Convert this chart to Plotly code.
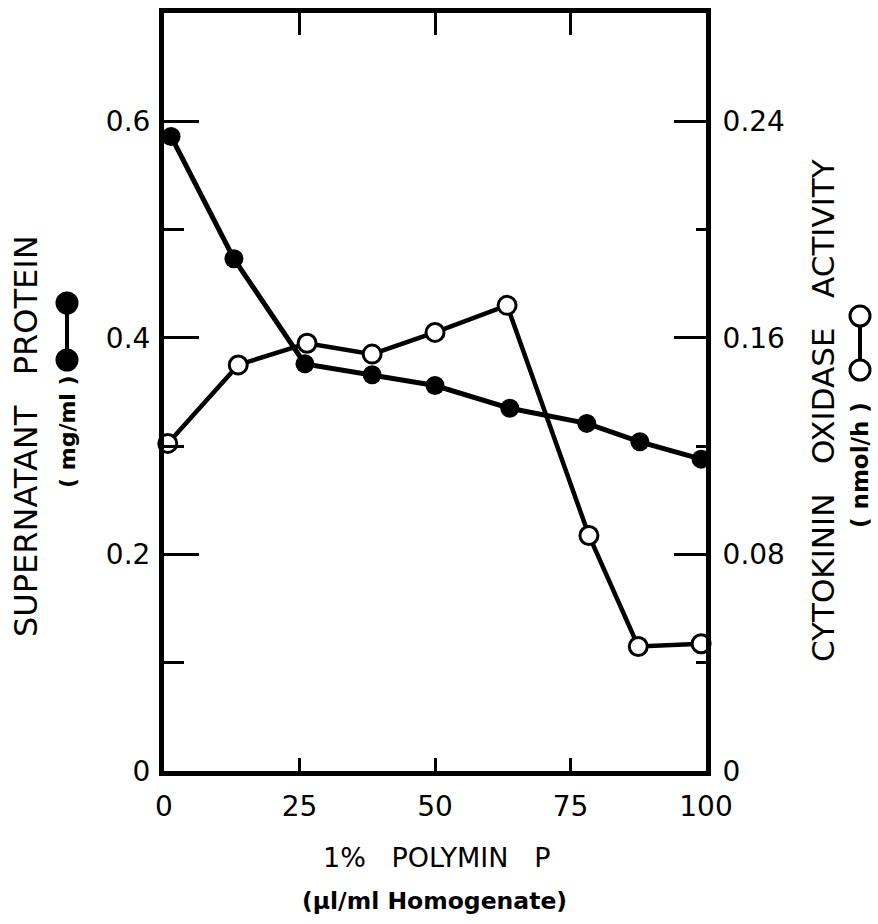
import plotly.graph_objects as go

# Data
polymin_x = [1.3, 12.9, 26.0, 38.4, 50.0, 63.8, 78.0, 87.8, 99.1]
protein = [0.586, 0.473, 0.376, 0.366, 0.356, 0.335, 0.321, 0.304, 0.288]

activity_x = [0.7, 13.7, 26.4, 38.4, 50.0, 63.3, 78.4, 87.5, 99.1]
activity = [0.121, 0.150, 0.158, 0.154, 0.162, 0.172, 0.087, 0.046, 0.047]

x_ticks = [0, 25, 50, 75, 100]
left_ticks = [0, 0.2, 0.4, 0.6]
left_labels = ["0", "0.2", "0.4", "0.6"]
left_minor = [0.1, 0.3, 0.5]
right_ticks = [0, 0.08, 0.16, 0.24]
right_labels = ["0", "0.08", "0.16", "0.24"]
right_minor = [0.04, 0.12, 0.20]

FONT = "DejaVu Sans"
W, H = 878, 924
L, R, T, B = 164, 172, 13, 153

fig = go.Figure()

fig.add_trace(go.Scatter(
    x=polymin_x, y=protein, mode="lines+markers",
    line=dict(color="black", width=5),
    marker=dict(symbol="circle", size=19, color="black"),
    cliponaxis=False, showlegend=False, yaxis="y"))

fig.add_trace(go.Scatter(
    x=activity_x, y=activity, mode="lines+markers",
    line=dict(color="black", width=4.5),
    marker=dict(symbol="circle", size=18, color="white",
                line=dict(color="black", width=3)),
    cliponaxis=False, showlegend=False, yaxis="y2"))

# invisible trace so the top axis is drawn
fig.add_trace(go.Scatter(x=polymin_x, y=protein, mode="markers",
                         marker=dict(opacity=0), xaxis="x2", yaxis="y",
                         showlegend=False, hoverinfo="skip"))

TICKFONT = dict(size=28, family=FONT)

fig.update_layout(
    width=W, height=H,
    margin=dict(l=L, r=R, t=T, b=B),
    plot_bgcolor="white", paper_bgcolor="white",
    font=dict(family=FONT, color="black", size=28),
    xaxis=dict(range=[0, 100], tickvals=x_ticks, ticktext=[str(v) for v in x_ticks],
               ticks="inside", ticklen=13, tickwidth=2.5, tickcolor="black",
               showline=True, linewidth=5, linecolor="black",
               showgrid=False, zeroline=False, ticklabelstandoff=6,
               tickfont=TICKFONT),
    xaxis2=dict(range=[0, 100], overlaying="x", side="top", tickvals=x_ticks,
                ticks="inside", ticklen=22, tickwidth=2.5, tickcolor="black",
                showticklabels=False, showline=True, linewidth=5, linecolor="black",
                showgrid=False, zeroline=False),
    yaxis=dict(range=[0, 0.7], tickvals=left_ticks, ticktext=left_labels,
               ticks="inside", ticklen=35, tickwidth=2.5, tickcolor="black",
               minor=dict(tickvals=left_minor, ticks="inside", ticklen=20,
                          tickwidth=2.5, tickcolor="black", showgrid=False),
               showline=True, linewidth=5, linecolor="black",
               showgrid=False, zeroline=False, ticklabelstandoff=3,
               tickfont=TICKFONT),
    yaxis2=dict(range=[0, 0.28], overlaying="y", side="right",
                tickvals=right_ticks, ticktext=right_labels,
                ticks="inside", ticklen=32, tickwidth=2.5, tickcolor="black",
                minor=dict(tickvals=right_minor, ticks="inside", ticklen=10,
                           tickwidth=2.5, tickcolor="black", showgrid=False),
                showline=True, linewidth=5, linecolor="black",
                showgrid=False, zeroline=False, ticklabelstandoff=6,
                tickfont=TICKFONT),
)

def px_x(px):
    return (px - L) / (W - L - R)

def px_y(py):
    return (H - B - py) / (H - B - T)

annots = [
    dict(text="SUPERNATANT   PROTEIN", x=px_x(26), y=px_y(436), textangle=-90,
         font=dict(size=32)),
    dict(text="<b>( mg/ml )</b>", x=px_x(67), y=px_y(432), textangle=-90,
         font=dict(size=22)),
    dict(text="CYTOKININ   OXIDASE   ACTIVITY", x=px_x(823), y=px_y(411), textangle=-90,
         font=dict(size=31)),
    dict(text="<b>( nmol/h )</b>", x=px_x(860), y=px_y(465), textangle=-90,
         font=dict(size=23)),
    dict(text="1%   POLYMIN   P", x=px_x(437), y=px_y(858), font=dict(size=27)),
    dict(text="<b>(µl/ml Homogenate)</b>", x=px_x(434), y=px_y(901), font=dict(size=23.5)),
]
for a in annots:
    fig.add_annotation(xref="paper", yref="paper", showarrow=False,
                       xanchor="center", yanchor="middle", **a)

# legend symbols next to the axis titles
def legend_symbol(cx, cy1, cy2, filled):
    fig.add_shape(type="line", xref="paper", yref="paper",
                  x0=px_x(cx), x1=px_x(cx), y0=px_y(cy1), y1=px_y(cy2),
                  line=dict(color="black", width=4))
    for cy in (cy1, cy2):
        fig.add_shape(type="circle", xref="paper", yref="paper",
                      xsizemode="pixel", ysizemode="pixel",
                      xanchor=px_x(cx), yanchor=px_y(cy),
                      x0=-10, x1=10, y0=-10, y1=10,
                      fillcolor="black" if filled else "white",
                      line=dict(color="black", width=3))

legend_symbol(67, 303, 360, True)
legend_symbol(860, 316, 370, False)

fig.write_html("out.html")
